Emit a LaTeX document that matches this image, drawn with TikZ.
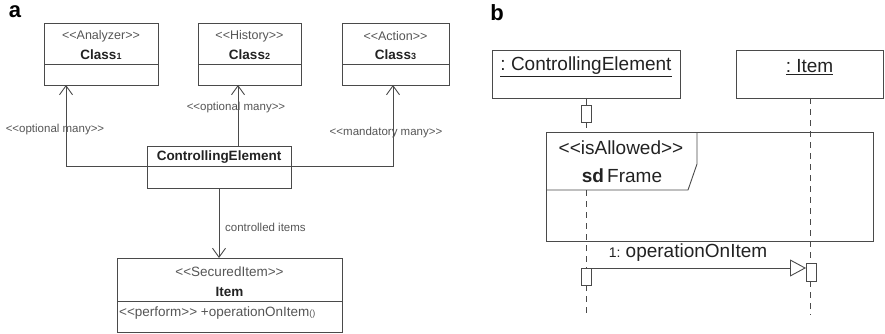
\documentclass[tikz,border=0pt]{standalone}
\usepackage{fontspec}
\setmainfont{Liberation Sans}
\usetikzlibrary{arrows.meta,calc}
\definecolor{ln}{HTML}{4A4A4A}
\definecolor{tx}{HTML}{222222}
\definecolor{st}{HTML}{555555}
\newcommand{\myfs}[1]{\fontsize{#1}{#1}\selectfont}
\newcommand{\sopen}{<\kern0pt<}
\newcommand{\sclose}{>\kern0pt>}
\tikzset{
  box/.style={draw=ln, line width=0.9pt, anchor=north west, inner sep=0pt, outer sep=0pt},
  ster/.style={text=st, font=\myfs{12.5}, inner sep=0pt},
  cname/.style={text=tx, font=\myfs{13.5}\bfseries, inner sep=0pt},
  lbl/.style={text=st, font=\myfs{11.5}, inner sep=0pt},
  big/.style={text=tx, font=\myfs{19}, inner sep=0pt},
  panel/.style={text=black, font=\myfs{22}\bfseries, inner sep=0pt},
  conn/.style={draw=ln, line width=0.9pt},
  assoc/.style={conn, -{Straight Barb[length=9pt,width=13pt,line width=0.9pt]}},
  life/.style={conn, dash pattern=on 6pt off 5pt},
  act/.style={draw=ln, line width=0.9pt, fill=white, minimum width=10pt, inner sep=0pt, outer sep=0pt}
}
\begin{document}
\begin{tikzpicture}[x=1pt,y=-1pt]
\useasboundingbox (0,0) rectangle (885,334);
% ---------------- panel a
\node[panel] (pa) at (15,12) {a};
\node[box, minimum width=114pt, minimum height=62pt] (c1) at (44,23) {};
\node[box, minimum width=103pt, minimum height=62pt] (c2) at (198,23) {};
\node[box, minimum width=107pt, minimum height=62pt] (c3) at (342,23) {};
\foreach \n in {c1,c2,c3}{\draw[conn] (\n.west |- 0,64) -- (\n.east |- 0,64);}
\node[ster] (c1s) at (101,36) {\sopen Analyzer\sclose};
\node[cname] (c1n) at (101,55) {Class{\myfs{9}1}};
\node[ster] (c2s) at (249.5,36) {\sopen History\sclose};
\node[cname] (c2n) at (249.5,55) {Class{\myfs{9}2}};
\node[ster] (c3s) at (395.5,36) {\sopen Action\sclose};
\node[cname] (c3n) at (395.5,55) {Class{\myfs{9}3}};

\node[box, minimum width=144pt, minimum height=42pt] (ce) at (147,146) {};
\draw[conn] (ce.west |- 0,166) -- (ce.east |- 0,166);
\node[cname] (cen) at (219,157) {ControllingElement};

\node[box, minimum width=225pt, minimum height=74pt] (it) at (117,258) {};
\draw[conn] (it.west |- 0,301) -- (it.east |- 0,301);
\node[ster, font=\myfs{13.5}] (its) at (229.5,272) {\sopen SecuredItem\sclose};
\node[cname] (itn) at (229.5,292) {Item};
\node[ster, font=\myfs{13.5}, anchor=west] (ito) at (119,313) {\sopen perform\sclose\ +operationOnItem{\myfs{9}()}};

% connectors a
\coordinate (j1) at (66,166);
\coordinate (j3) at (393,166);
\draw[assoc] (ce.west |- j1) -- (j1) -- (j1 |- c1.south);
\draw[assoc] (ce.east |- j3) -- (j3) -- (j3 |- c3.south);
\draw[assoc] (ce.north -| 238,0) -- (c2.south -| 238,0);
\draw[assoc] (ce.south) -- (ce.south |- it.north);

\node[lbl] (l1) at (55,130) {\sopen optional many\sclose};
\node[lbl] (l2) at (236,108) {\sopen optional many\sclose};
\node[lbl] (l3) at (386,133) {\sopen mandatory many\sclose};
\node[lbl, anchor=west] (l4) at (225,227) {controlled items};

% ---------------- panel b
\node[panel] (pb) at (497,13) {b};
\node[box, minimum width=188pt, minimum height=48pt] (ce2) at (492,50) {};
\node[box, minimum width=147pt, minimum height=48pt] (it2) at (736,50) {};
\node[big] (ce2n) at (586,67) {\underline{:\ ControllingElement}};
\node[big] (it2n) at (809.5,67) {\underline{:\ Item}};

\node[box, minimum width=327pt, minimum height=109pt] (fr) at (546,132) {};
\coordinate (p1) at (697,132);
\coordinate (p2) at (697,164);
\coordinate (p3) at (688,190);
\coordinate (p4) at (546,190);
\draw[conn] (p1) -- (p2) -- (p3) -- (p4);
\node[big] (frs) at (621,148) {\sopen isAllowed\sclose};
\node[big] (frn) at (622,176) {\textbf{sd}\,Frame};

\node[act, minimum height=17pt] (a1) at (586,113.5) {};
\node[act, minimum height=17pt] (a1b) at (586,276.5) {};
\node[act, minimum height=18pt] (a2) at (811,272) {};
\coordinate (e1) at (586,315);
\coordinate (e2) at (810,315);

\draw[conn] (ce2.south -| a1.north) -- (a1.north);
\draw[life] (a1.south) -- (a1.south |- fr.north);
\draw[life] (a1.south |- p4) -- (a1b.north);
\draw[life] (a1b.south) -- (e1);
\draw[life] (it2.south -| e2) -- (a2.north -| e2);
\draw[life] (a2.south -| e2) -- (e2);

\draw[conn, -{Triangle[open,length=16pt,width=17pt,line width=0.9pt]}] (a1b.north east) -- (a1b.north east -| a2.west);
\node[big] (msg) at (688,253) {{\myfs{14}1:}\ operationOnItem};
\end{tikzpicture}
\end{document}
